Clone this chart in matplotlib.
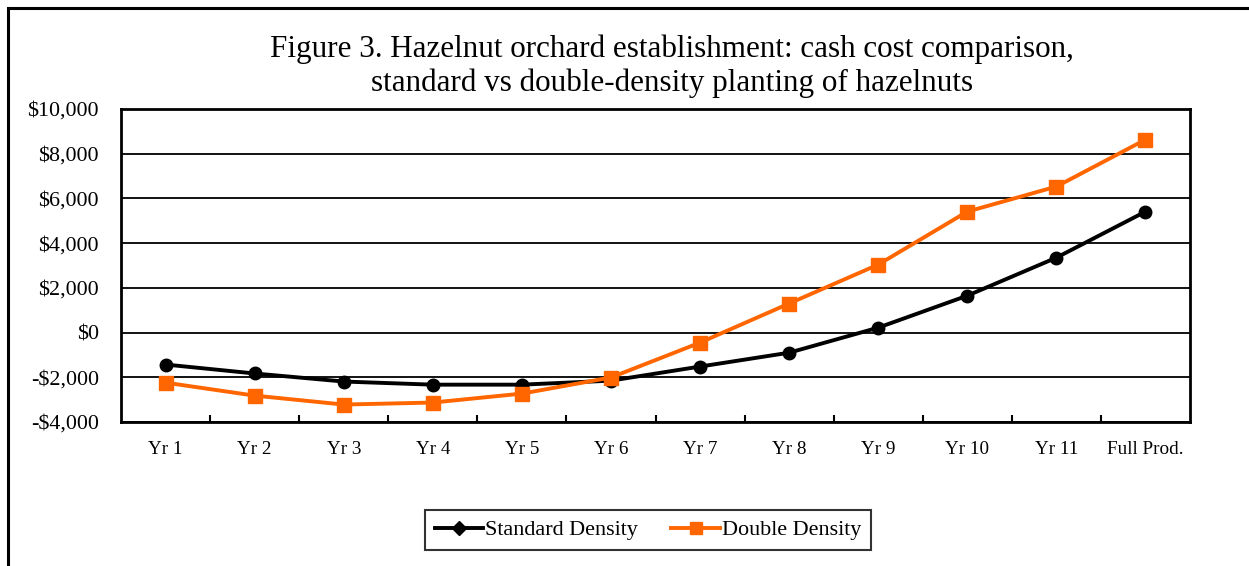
import matplotlib
matplotlib.use("Agg")
import matplotlib.pyplot as plt
from matplotlib.lines import Line2D
from matplotlib.patches import Rectangle
from matplotlib.ticker import FuncFormatter, FixedLocator

categories = ["Yr 1", "Yr 2", "Yr 3", "Yr 4", "Yr 5", "Yr 6", "Yr 7", "Yr 8",
              "Yr 9", "Yr 10", "Yr 11", "Full Prod."]
standard = [-1430, -1830, -2190, -2330, -2330, -2150, -1520, -900, 220, 1650, 3350, 5410]
double = [-2240, -2820, -3220, -3130, -2730, -2010, -450, 1300, 3040, 5410, 6530, 8630]
yticks = [-4000, -2000, 0, 2000, 4000, 6000, 8000, 10000]

plt.rcParams['font.family'] = ['Liberation Serif', 'DejaVu Serif']

fig = plt.figure(figsize=(12.49, 5.66), dpi=100)
fig.patches.append(Rectangle((8/1249, -0.1), 1.2, 1 - 8/566 + 0.1, transform=fig.transFigure,
                             fill=False, edgecolor='black', linewidth=2.2, zorder=0))

ax = fig.add_axes([121/1249, 1 - 422/566, (1190 - 121)/1249, (422 - 109)/566])
x = list(range(len(categories)))

ax.plot(x, standard, color='black', lw=2.8, marker='o', ms=9, mfc='black', mec='black',
        zorder=3, solid_joinstyle='round')
ax.plot(x, double, color='#FF6600', lw=2.8, marker='s', ms=10.5, mfc='#FF6600', mec='#FF6600',
        zorder=4)

ax.set_xlim(-0.5, len(categories) - 0.5)
ax.set_ylim(-4000, 10000)
ax.set_yticks(yticks)
ax.yaxis.set_major_formatter(FuncFormatter(lambda v, p: ("-$" if v < 0 else "$") + f"{abs(int(v)):,}"))
ax.grid(axis='y', color='black', lw=1.3)
ax.set_axisbelow(True)
ax.tick_params(axis='y', length=0, pad=16, labelsize=15.8)

ax.set_xticks(x)
ax.set_xticklabels(categories)
ax.tick_params(axis='x', which='major', length=0, pad=14, labelsize=13.8)
ax.xaxis.set_minor_locator(FixedLocator([i + 0.5 for i in range(len(categories) - 1)]))
ax.tick_params(axis='x', which='minor', direction='in', length=5, width=1.5, color='black')

for s in ax.spines.values():
    s.set_linewidth(2)
    s.set_color('black')

fig.text(672/1249, 1 - 66/566,
         "Figure 3. Hazelnut orchard establishment: cash cost comparison,\nstandard vs double-density planting of hazelnuts",
         ha='center', va='center', fontsize=22.4, linespacing=1.22)

handles = [Line2D([], [], color='black', lw=2.8, marker='D', ms=7),
           Line2D([], [], color='#FF6600', lw=2.8, marker='s', ms=8)]
leg = fig.legend(handles, ["Standard Density", "Double Density"], loc='center',
                 bbox_to_anchor=(648/1249, 1 - 530/566), ncol=2, fontsize=15.9,
                 frameon=True, fancybox=False, edgecolor='black', handlelength=2.2,
                 handletextpad=0.1, columnspacing=1.5, borderpad=0.45)
leg.get_frame().set_linewidth(1.5)

fig.savefig("out.png", dpi=100)
